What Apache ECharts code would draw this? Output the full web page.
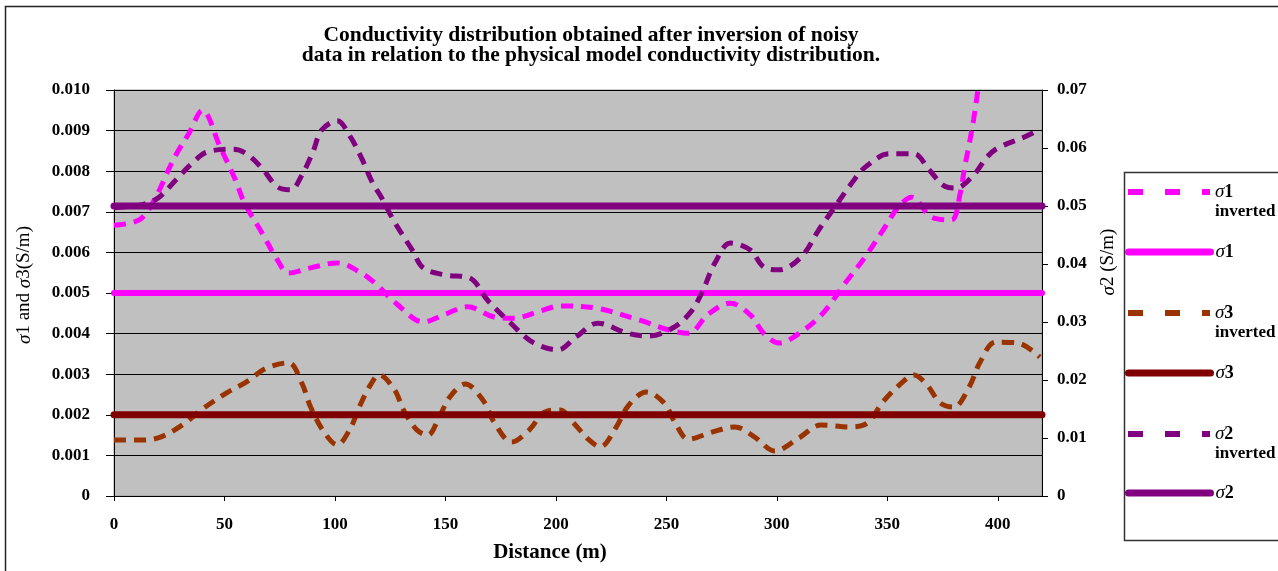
<!DOCTYPE html>
<html>
<head>
<meta charset="utf-8">
<script src="https://cdn.jsdelivr.net/npm/echarts@6/dist/echarts.min.js"></script>
<style>
html,body{margin:0;padding:0;background:#fff;}
#c{width:1278px;height:571px;}
</style>
</head>
<body>
<div id="c"></div>
<script>
// ---- data (distance in m, conductivity in S/m) ----
const s1InvDist = [0,13,28,34,40,48,55,59,67,74,79,89,101,112,119,128,140,150,160,172,181,193,202,218,238,251,260,269,279,288,294,301,311,321,331,340,349,355,361,370,379,383,385,387,389,391,393];
const s1InvVal  = [0.00667,0.00687,0.00840,0.00894,0.00950,0.00860,0.00778,0.00722,0.00648,0.00581,0.00549,0.00562,0.00574,0.00549,0.00520,0.00473,0.00429,0.00448,0.00466,0.00441,0.00438,0.00456,0.00468,0.00463,0.00433,0.00409,0.00401,0.00448,0.00475,0.00446,0.00401,0.00377,0.00404,0.00451,0.00525,0.00589,0.00663,0.00712,0.00736,0.00687,0.00680,0.00746,0.00810,0.00865,0.00926,0.01000,0.01070];

const s3InvDist = [0,13,21,31,40,51,60,69,79,85,89,95,101,107,111,116,120,127,131,137,142,147,152,159,167,172,180,188,195,202,208,215,220,227,233,241,249,254,260,271,281,290,299,310,320,333,341,348,357,362,368,374,380,387,392,399,409,419];
const s3InvVal  = [0.00138,0.00138,0.00145,0.00175,0.00214,0.00254,0.00281,0.00315,0.00328,0.00278,0.00219,0.00158,0.00126,0.00167,0.00219,0.00273,0.00298,0.00261,0.00212,0.00163,0.00150,0.00192,0.00244,0.00276,0.00236,0.00182,0.00133,0.00163,0.00207,0.00212,0.00180,0.00138,0.00121,0.00167,0.00224,0.00256,0.00229,0.00180,0.00140,0.00158,0.00170,0.00145,0.00111,0.00143,0.00175,0.00170,0.00180,0.00232,0.00281,0.00298,0.00273,0.00229,0.00219,0.00268,0.00330,0.00379,0.00377,0.00342];

const s2InvDist = [0,12,20,28,36,42,54,60,67,74,80,85,90,94,101,107,112,117,121,127,135,140,150,161,169,179,190,201,209,219,232,242,253,261,266,272,279,288,294,301,311,319,326,334,340,351,362,369,376,381,389,395,400,412,418];
const s2InvVal  = [0.0497,0.0502,0.0514,0.0545,0.0576,0.0593,0.0598,0.0590,0.0565,0.0533,0.0528,0.0553,0.0593,0.0631,0.0647,0.0619,0.0583,0.0540,0.0515,0.0472,0.0424,0.0393,0.0381,0.0376,0.0338,0.0300,0.0264,0.0252,0.0274,0.0298,0.0281,0.0276,0.0290,0.0317,0.0350,0.0402,0.0436,0.0424,0.0395,0.0390,0.0412,0.0459,0.0497,0.0540,0.0567,0.0590,0.0590,0.0562,0.0534,0.0531,0.0553,0.0584,0.0600,0.0619,0.0630];

const modelDist = [0, 420];
const s1Model = 0.005;
const s3Model = 0.002;
const s2Model = 0.05;

const xTicks = [0,50,100,150,200,250,300,350,400];
const titleLines = ['Conductivity distribution obtained after inversion of noisy','data in relation to the physical model conductivity distribution.'];

const pairs = (xs, ys) => xs.map((x, i) => [x, ys[i]]);
const flat = (v) => modelDist.map(x => [x, v]);

const FONT = '"Liberation Serif", "Times New Roman", serif';
const C_S1 = '#FF00FF', C_S2 = '#800080', C_S3 = '#800000', C_S3I = '#993300';

const chart = echarts.init(document.getElementById('c'), null, {renderer: 'canvas'});

const sigmaRich = {
  s: {fontFamily: FONT, fontStyle: 'italic', fontWeight: 'normal', fontSize: 19, color: '#000', lineHeight: 20},
  n: {fontFamily: FONT, fontWeight: 'bold', fontSize: 18, color: '#000', lineHeight: 20},
  i: {fontFamily: FONT, fontWeight: 'bold', fontSize: 17, color: '#000', lineHeight: 20}
};

function legendFor(name, y, dashed, color, width) {
  const parts = name.split(' ');
  const num = parts[0].replace('σ', '');
  const inv = parts.length > 1;
  return {
    data: [name],
    left: 1120,
    top: inv ? y - 35 : y - 15,
    itemWidth: 82,
    itemHeight: 14,
    selectedMode: false,
    itemStyle: {opacity: 0, borderWidth: 0},
    formatter: () => inv ? '{s|σ}{n|' + num + '}\n{i|inverted}' : '{s|σ}{n|' + num + '}',
    textStyle: {rich: sigmaRich, padding: inv ? [20, 0, 0, 0] : 0, lineHeight: 20},
    lineStyle: {width: width, type: dashed ? [15, 22] : 'solid', cap: dashed ? 'butt' : 'round', color: color, opacity: 1}
  };
}

const option = {
  animation: false,
  backgroundColor: '#fff',
  title: {
    text: titleLines.join('\n'),
    left: 586,
    textAlign: 'center',
    top: 20,
    textStyle: {fontFamily: FONT, fontWeight: 'bold', fontSize: 21.5, lineHeight: 20, color: '#000'}
  },
  graphic: [
    {type: 'rect', z: -10, silent: true, shape: {x: 5.5, y: 6.5, width: 1300, height: 600}, style: {fill: '#fff', stroke: '#222', lineWidth: 1.5}},
    {type: 'rect', z: -5, silent: true, shape: {x: 1124.5, y: 172.5, width: 200, height: 368}, style: {fill: '#fff', stroke: '#333', lineWidth: 1.5}}
  ],
  legend: [
    legendFor('σ1 inverted', 192, true, C_S1, 6),
    legendFor('σ1', 252, false, C_S1, 7),
    legendFor('σ3 inverted', 313, true, C_S3I, 6),
    legendFor('σ3', 373, false, C_S3, 7),
    legendFor('σ2 inverted', 434, true, C_S2, 6),
    legendFor('σ2', 493, false, C_S2, 7)
  ],
  grid: {
    left: 114, top: 90, width: 928, height: 406,
    show: true, backgroundColor: '#C0C0C0', borderColor: '#9a9a9a', borderWidth: 1
  },
  xAxis: {
    type: 'value', min: 0, max: 420, interval: 50,
    name: 'Distance (m)', nameLocation: 'middle', nameGap: 46,
    nameTextStyle: {fontFamily: FONT, fontWeight: 'bold', fontSize: 21, color: '#000', padding: [0, 56, 0, 0]},
    axisLine: {show: true, onZero: false, lineStyle: {color: '#000', width: 1}},
    axisTick: {show: true, length: 5, lineStyle: {color: '#000'}},
    axisLabel: {
      margin: 20, fontFamily: FONT, fontWeight: 'bold', fontSize: 17, color: '#000', showMaxLabel: false,
      formatter: v => xTicks.includes(v) ? String(v) : ''
    },
    splitLine: {show: false}
  },
  yAxis: [
    {
      type: 'value', position: 'left', min: 0, max: 0.010, interval: 0.001,
      name: '{s|σ}1 and {s|σ}3(S/m)', nameLocation: 'middle', nameGap: 80, nameRotate: 90,
      nameTextStyle: {fontFamily: FONT, fontWeight: 'normal', fontSize: 19, color: '#000', padding: [0, 0, 0, 16],
        rich: {s: {fontFamily: FONT, fontStyle: 'italic', fontSize: 19, color: '#000'}}},
      axisLine: {show: true, lineStyle: {color: '#000', width: 1}},
      axisTick: {show: true, length: 8, lineStyle: {color: '#000'}},
      axisLabel: {margin: 24, fontFamily: FONT, fontWeight: 'bold', fontSize: 17, color: '#000',
        formatter: v => v === 0 ? '0' : v.toFixed(3)},
      splitLine: {show: true, lineStyle: {color: '#000', width: 1}}
    },
    {
      type: 'value', position: 'right', min: 0, max: 0.07, interval: 0.01,
      name: '{s|σ}2 (S/m)', nameLocation: 'middle', nameGap: 57, nameRotate: 90,
      nameTextStyle: {fontFamily: FONT, fontWeight: 'normal', fontSize: 19, color: '#000', padding: [0, 0, 0, 62],
        rich: {s: {fontFamily: FONT, fontStyle: 'italic', fontSize: 19, color: '#000'}}},
      axisLine: {show: true, lineStyle: {color: '#000', width: 1}},
      axisTick: {show: true, length: 6, lineStyle: {color: '#000'}},
      axisLabel: {margin: 15, fontFamily: FONT, fontWeight: 'bold', fontSize: 17, color: '#000',
        formatter: v => v === 0 ? '0' : v.toFixed(2)},
      splitLine: {show: false}
    }
  ],
  series: [
    {name: 'σ1 inverted', type: 'line', yAxisIndex: 0, data: pairs(s1InvDist, s1InvVal), smooth: 0.35, showSymbol: false, symbol: 'none',
      lineStyle: {color: C_S1, width: 5, type: [12, 8]}, itemStyle: {color: C_S1}, z: 3},
    {name: 'σ1', type: 'line', yAxisIndex: 0, data: flat(s1Model), showSymbol: false, symbol: 'none',
      lineStyle: {color: C_S1, width: 6, cap: 'round'}, itemStyle: {color: C_S1}, z: 3},
    {name: 'σ3 inverted', type: 'line', yAxisIndex: 0, data: pairs(s3InvDist, s3InvVal), smooth: 0.35, showSymbol: false, symbol: 'none',
      lineStyle: {color: C_S3I, width: 5, type: [12, 8]}, itemStyle: {color: C_S3I}, z: 3},
    {name: 'σ3', type: 'line', yAxisIndex: 0, data: flat(s3Model), showSymbol: false, symbol: 'none',
      lineStyle: {color: C_S3, width: 7, cap: 'round'}, itemStyle: {color: C_S3}, z: 3},
    {name: 'σ2 inverted', type: 'line', yAxisIndex: 1, data: pairs(s2InvDist, s2InvVal), smooth: 0.35, showSymbol: false, symbol: 'none',
      lineStyle: {color: C_S2, width: 5, type: [12, 8]}, itemStyle: {color: C_S2}, z: 3},
    {name: 'σ2', type: 'line', yAxisIndex: 1, data: flat(s2Model), showSymbol: false, symbol: 'none',
      lineStyle: {color: C_S2, width: 7, cap: 'round'}, itemStyle: {color: C_S2}, z: 3}
  ]
};
chart.setOption(option);
</script>
</body>
</html>
